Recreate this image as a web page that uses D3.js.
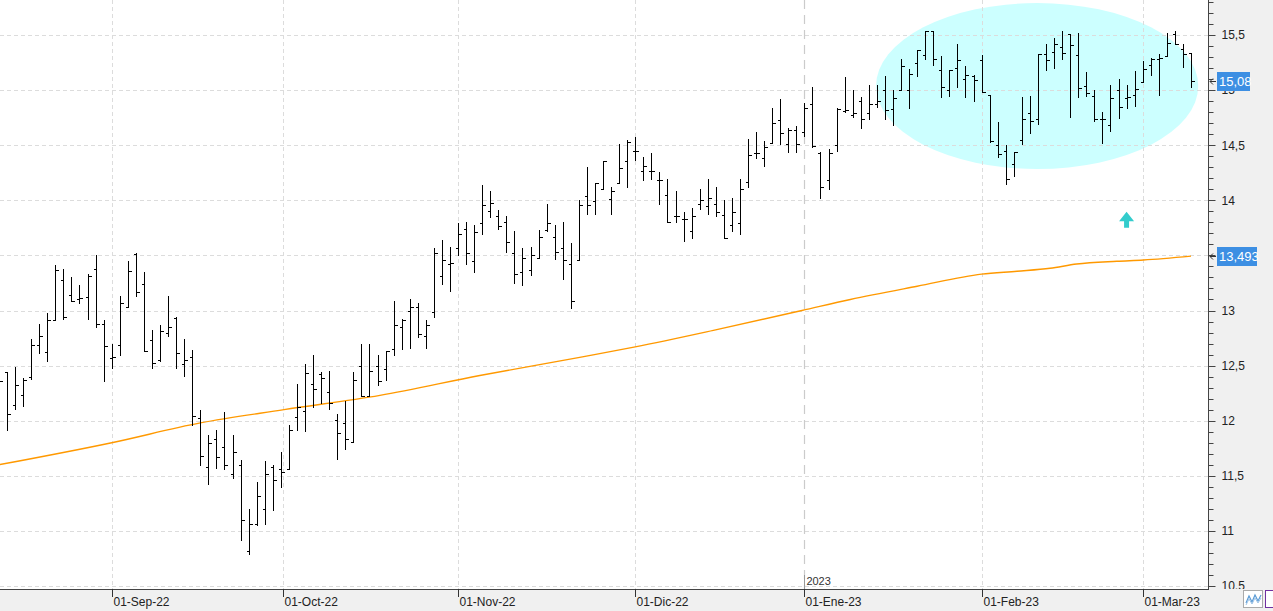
<!DOCTYPE html>
<html><head><meta charset="utf-8">
<script src="https://cdn.jsdelivr.net/npm/d3@7"></script>
<style>
html,body{margin:0;padding:0;background:#fff;overflow:hidden}
svg{display:block;font-family:"Liberation Sans","Noto Sans",Arial,sans-serif}
</style></head><body>
<svg id="c" width="1273" height="611"></svg>
<script>
// ---- data (session index 0 = first full bar; -1 = partially visible bar) ----
const firstIndex = -1;
const openP = [12.30,
 12.44,12.14,12.23,12.40,12.69,12.62,12.91,13.28,13.14,13.10,13.12,13.38,12.88,
 12.57,12.69,13.03,13.51,13.24,12.73,12.55,12.80,12.93,12.51,12.58,12.02,11.58,11.83,11.76,11.52,11.60,10.82,11.06,11.20,11.58,11.56,
 11.56,12.03,12.09,12.33,12.42,12.26,12.01,11.98,11.81,12.50,12.22,12.50,12.47,12.65,12.85,13.00,13.03,12.77,12.99,13.31,13.42,
 13.57,13.74,13.45,13.79,13.90,13.86,13.80,13.52,13.35,13.37,13.48,13.73,13.67,13.57,13.42,13.46,14.04,13.99,14.10,14.01,14.16,14.36,
 14.45,14.27,14.27,14.18,14.05,13.86,13.83,13.72,13.97,13.95,13.97,13.87,13.78,13.79,14.17,14.43,14.38,14.52,14.73,14.51,14.64,
 14.62,14.87,14.43,14.18,14.50,14.81,14.77,14.90,14.79,14.87,15.00,14.83,15.00,15.00,15.25,15.32,15.54,15.18,15.00,15.20,15.10,15.13,
 15.27,14.96,14.50,14.45,14.33,14.55,14.79,14.74,15.33,15.35,15.39,15.51,15.32,15.04,14.95,14.74,14.68,15.00,14.93,14.96,
 15.07,15.23,15.28,15.31,15.51,15.37,15.34];
const highP = [12.42,
 12.44,12.49,12.39,12.74,12.88,12.98,13.41,13.38,13.30,13.23,13.33,13.50,12.91,
 12.70,13.13,13.45,13.52,13.35,12.82,12.87,13.13,12.94,12.74,12.64,12.10,11.87,11.92,12.08,11.87,11.64,11.20,11.44,11.63,11.60,11.72,
 11.96,12.33,12.51,12.60,12.44,12.45,12.06,12.18,12.44,12.70,12.70,12.60,12.63,13.09,12.92,13.10,13.07,12.91,13.57,13.64,13.58,
 13.79,13.80,13.78,14.14,14.08,13.91,13.86,13.72,13.57,13.58,13.73,13.97,13.78,13.80,13.61,14.00,14.30,14.16,14.36,14.12,14.51,14.55,
 14.57,14.39,14.43,14.26,14.19,14.08,13.89,13.93,14.10,14.19,14.12,14.00,14.02,14.19,14.56,14.62,14.54,14.84,14.92,14.66,14.67,
 14.88,15.03,14.44,14.47,14.84,15.12,15.00,14.94,15.05,15.05,15.13,15.00,15.28,15.19,15.36,15.54,15.54,15.31,15.18,15.42,15.22,15.14,
 15.32,14.96,14.71,14.50,14.44,14.94,14.95,15.33,15.42,15.47,15.54,15.51,15.52,15.16,15.00,14.80,15.05,15.10,15.05,15.17,
 15.26,15.29,15.33,15.52,15.54,15.42,15.34];
const lowP = [12.25,
 11.92,12.11,12.13,12.38,12.61,12.54,12.91,12.92,13.09,13.07,12.92,12.85,12.36,
 12.48,12.60,13.03,13.13,12.63,12.48,12.54,12.77,12.48,12.41,11.96,11.60,11.43,11.57,11.56,11.48,10.92,10.79,11.05,11.06,11.19,11.40,
 11.56,11.92,11.91,12.12,12.16,12.11,11.65,11.74,11.81,12.22,12.22,12.32,12.37,12.60,12.65,12.66,12.76,12.66,12.94,13.24,13.18,
 13.50,13.42,13.35,13.69,13.85,13.74,13.53,13.25,13.23,13.32,13.48,13.72,13.47,13.29,13.02,13.46,13.88,13.88,14.10,13.88,14.16,14.12,
 14.37,14.18,14.19,13.97,13.80,13.80,13.63,13.66,13.92,13.88,13.86,13.66,13.72,13.69,14.12,14.38,14.31,14.52,14.51,14.44,14.44,
 14.58,14.48,14.02,14.10,14.45,14.80,14.76,14.66,14.74,14.85,14.74,14.68,15.00,14.84,15.13,15.28,15.23,14.94,14.95,15.03,14.94,14.90,
 14.98,14.53,14.39,14.15,14.22,14.51,14.61,14.69,15.18,15.20,15.28,14.76,14.94,14.95,14.72,14.52,14.63,14.75,14.84,14.86,
 15.07,15.14,14.96,15.31,15.42,15.21,15.03];
const closeP = [12.36,
 12.06,12.32,12.37,12.69,12.77,12.91,13.37,12.94,13.09,13.11,13.31,12.88,12.68,
 12.58,13.07,13.36,13.17,12.63,12.52,12.81,12.85,12.61,12.55,12.04,11.68,11.80,11.67,11.60,11.72,11.10,11.06,11.32,11.52,11.46,11.53,
 11.92,12.12,12.43,12.29,12.39,12.16,11.89,11.83,12.37,12.22,12.45,12.36,12.63,12.87,12.91,13.03,12.79,12.87,13.52,13.46,13.43,
 13.69,13.52,13.71,13.96,13.98,13.77,13.62,13.33,13.48,13.50,13.67,13.79,13.53,13.46,13.09,13.96,13.96,14.16,14.36,14.08,14.29,14.53,
 14.45,14.31,14.27,14.18,13.80,13.86,13.83,13.86,14.00,14.02,13.89,13.66,13.89,14.10,14.41,14.43,14.48,14.70,14.61,14.64,14.51,
 14.84,14.49,14.12,14.43,14.83,14.82,14.79,14.74,14.87,14.90,14.82,14.93,15.22,15.15,15.36,15.54,15.28,15.03,15.18,15.27,15.14,15.09,
 14.98,14.54,14.42,14.19,14.44,14.74,14.72,15.33,15.27,15.42,15.34,15.41,15.02,14.97,14.74,14.74,14.93,14.85,14.94,15.01,
 15.19,15.28,15.29,15.43,15.42,15.33,15.08];

// moving-average line, points (session index, value)
const maIdx = [-1, 13, 24, 34.4, 46.3, 58.7, 71.1, 78, 87.7, 98.7, 104.7, 113, 121, 125.4, 129.5, 132.8, 137.8, 141.1, 147];
const maVal = [11.60, 11.80, 11.98, 12.10, 12.23, 12.41, 12.575, 12.67, 12.82, 13.00, 13.10, 13.22, 13.33, 13.356, 13.383, 13.422, 13.447, 13.458, 13.493];

const monthLabels = ["01-Sep-22","01-Oct-22","01-Nov-22","01-Dic-22","01-Ene-23","01-Feb-23","01-Mar-23"];
const monthIdx = [13, 34.3, 56, 78, 99, 121, 141];
const yearLabel = "2023";
const yearIdx = 99;
const yTickVals = [10.5,11,11.5,12,12.5,13,13.5,14,14.5,15,15.5];
const lastPriceLabel = "15,08";
const lastPrice = 15.08;
const maLastLabel = "13,493";
const maLast = 13.493;
// annotations (session index / price units)
const ellipseC = {i: 127.9, v: 15.037, ri: 20, rv: 0.753};
const arrowAt = {i: 139, v: 13.75};

// ---- drawing ----
const W = 1273, H = 611, plotR = 1208, plotB = 589;
const svg = d3.select("#c");
const x = d3.scaleLinear().domain([0, 147]).range([7, 1191]);
const y = d3.scaleLinear().domain([10.5, 15.5]).range([586, 35]);
const px = v => Math.round(v) + 0.5;

svg.append("defs").append("clipPath").attr("id","pc")
  .append("rect").attr("x",0).attr("y",0).attr("width",plotR).attr("height",plotB);

svg.append("rect").attr("width",W).attr("height",H).attr("fill","#fff");
const plot = svg.append("g").attr("clip-path","url(#pc)");

// highlight ellipse
plot.append("ellipse")
  .attr("cx", x(ellipseC.i)).attr("cy", y(ellipseC.v))
  .attr("rx", x(ellipseC.i + ellipseC.ri) - x(ellipseC.i))
  .attr("ry", y(ellipseC.v - ellipseC.rv) - y(ellipseC.v))
  .attr("fill","#ccffff");

// gridlines
plot.selectAll("line.hg").data(yTickVals).join("line").attr("class","hg")
  .attr("x1",0).attr("x2",plotR).attr("y1",d=>px(y(d))).attr("y2",d=>px(y(d)))
  .attr("stroke","#dcdcdc").attr("stroke-dasharray","4,3");
plot.selectAll("line.vg").data(monthIdx.filter(d=>d!==yearIdx)).join("line").attr("class","vg")
  .attr("x1",d=>px(x(d))).attr("x2",d=>px(x(d))).attr("y1",0).attr("y2",plotB)
  .attr("stroke","#dcdcdc").attr("stroke-dasharray","4,3");
plot.append("line").attr("x1",px(x(yearIdx))).attr("x2",px(x(yearIdx))).attr("y1",0).attr("y2",plotB)
  .attr("stroke","#cbcbcb").attr("stroke-width",1.2).attr("stroke-dasharray","9,6");

// moving average
const maPts = maIdx.map((d,k)=>[d, maVal[k]]);
plot.append("path").datum(maPts)
  .attr("d", d3.line().x(d=>x(d[0])).y(d=>y(d[1])).curve(d3.curveMonotoneX))
  .attr("fill","none").attr("stroke","#ff9900").attr("stroke-width",1.4);

// OHLC bars
const bars = openP.map((o,k)=>({i:firstIndex+k, o, h:highP[k], l:lowP[k], c:closeP[k]}));
const bg = plot.append("g").attr("stroke","#000").attr("stroke-width",1).attr("shape-rendering","crispEdges");
bars.forEach(b=>{
  const xi = px(x(b.i));
  bg.append("line").attr("x1",xi).attr("x2",xi).attr("y1",Math.round(y(b.h))).attr("y2",Math.round(y(b.l))+1);
  bg.append("line").attr("x1",xi-3).attr("x2",xi).attr("y1",px(y(b.o))).attr("y2",px(y(b.o)));
  bg.append("line").attr("x1",xi).attr("x2",xi+3.5).attr("y1",px(y(b.c))).attr("y2",px(y(b.c)));
});

// up arrow annotation
{
  const ax = x(arrowAt.i), ay = y(arrowAt.v);
  svg.append("path").attr("fill","#33cccc")
    .attr("d",`M${ax},${ay-16} L${ax+7.5},${ay-6.5} L${ax+2.5},${ay-6.5} L${ax+2.5},${ay} L${ax-2.5},${ay} L${ax-2.5},${ay-6.5} L${ax-7.5},${ay-6.5} Z`);
}

// year marker at bottom
svg.append("line").attr("x1",px(x(yearIdx))).attr("x2",px(x(yearIdx))).attr("y1",575).attr("y2",plotB)
  .attr("stroke","#999");
svg.append("text").attr("x",x(yearIdx)+2).attr("y",585).attr("font-size",11).attr("fill","#333").text(yearLabel);

// right axis panel
svg.append("rect").attr("x",plotR).attr("y",0).attr("width",W-plotR).attr("height",H).attr("fill","#f0f0f0");
const ax = svg.append("g").attr("transform",`translate(${plotR+0.5},0)`);
const minor = d3.range(105, 159).map(d=>d/10);
ax.selectAll("line.mn").data(minor).join("line").attr("class","mn")
  .attr("x1",0).attr("x2",5).attr("y1",d=>px(y(d))).attr("y2",d=>px(y(d))).attr("stroke","#444");
ax.selectAll("line.mj").data(yTickVals).join("line").attr("class","mj")
  .attr("x1",0).attr("x2",7).attr("y1",d=>px(y(d))).attr("y2",d=>px(y(d))).attr("stroke","#444");
// labels fully hidden behind a value tag in the reference are not drawn
const tagVals = [lastPrice, maLast];
const visibleTicks = yTickVals.filter(d => !tagVals.some(t => Math.abs(y(t) - y(d)) < 3));
ax.selectAll("text").data(visibleTicks).join("text")
  .attr("x",13).attr("y",d=>y(d)).attr("dy","0.36em").attr("font-size",12).attr("fill","#222")
  .text(d=>String(d).replace(".",","));
svg.append("line").attr("x1",plotR+0.5).attr("x2",plotR+0.5).attr("y1",0).attr("y2",plotB).attr("stroke","#444");

// value tags
function tag(v, label, w){
  const yy = y(v);
  svg.append("rect").attr("x",1217).attr("y",Math.round(yy)-9).attr("width",w).attr("height",19).attr("fill","#3d8fe3");
  svg.append("text").attr("x",1219).attr("y",yy).attr("dy","0.36em").attr("font-size",13).attr("fill","#fff").text(label);
  svg.append("path").attr("d",`M1216,${px(yy)} H1210 M1213,${px(yy)-3} L1210,${px(yy)} L1213,${px(yy)+3}`)
    .attr("stroke","#333").attr("fill","none");
}
tag(lastPrice, lastPriceLabel, 33);
tag(maLast, maLastLabel, 40);

// bottom band
svg.append("rect").attr("x",0).attr("y",plotB).attr("width",W).attr("height",H-plotB).attr("fill","#f0f0f0");
svg.append("line").attr("x1",0).attr("x2",plotR+1).attr("y1",plotB+0.5).attr("y2",plotB+0.5).attr("stroke","#444");
const bx = svg.append("g");
monthIdx.forEach((d,k)=>{
  const xx = px(x(d));
  bx.append("line").attr("x1",xx).attr("x2",xx).attr("y1",plotB).attr("y2",plotB+8).attr("stroke","#333");
  bx.append("text").attr("x",xx+1).attr("y",606).attr("font-size",12).attr("fill","#222").text(monthLabels[k]);
});

// little toolbar icons bottom-right
svg.append("rect").attr("x",1243.5).attr("y",590.5).attr("width",19).attr("height",17).attr("fill","#fff").attr("stroke","#aaa");
svg.append("path").attr("d","M1246,603 L1249,596 L1252,602 L1255,595 L1258,601 L1261,595").attr("fill","none").attr("stroke","#5b9bd5").attr("stroke-width",1.2);
svg.append("path").attr("d","M1246,605 L1249,599 L1252,604 L1255,598 L1258,603 L1261,598").attr("fill","none").attr("stroke","#9dc3e6").attr("stroke-width",1);
svg.append("rect").attr("x",1265.5).attr("y",590.5).attr("width",12).attr("height",17).attr("fill","#fff").attr("stroke","#7030a0");
</script></body></html>
